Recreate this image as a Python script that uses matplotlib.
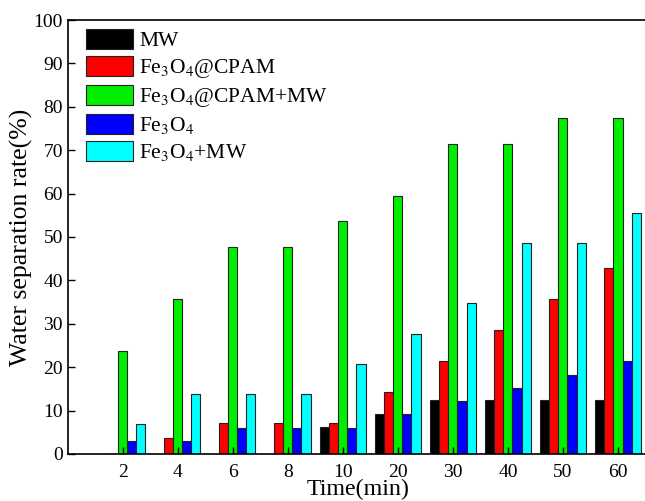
import numpy as np
import matplotlib.pyplot as plt

plt.rcParams['font.family'] = ['Liberation Serif', 'DejaVu Serif']
plt.rcParams['mathtext.fontset'] = 'stix'

# separation rate (%) over time for each treatment
times = ['2', '4', '6', '8', '10', '20', '30', '40', '50', '60']
mw = [0, 0, 0, 0, 6.2, 9.3, 12.4, 12.4, 12.4, 12.4]
fe_cpam = [0, 3.6, 7.1, 7.1, 7.1, 14.3, 21.4, 28.6, 35.7, 42.9]
fe_cpam_mw = [23.8, 35.7, 47.6, 47.6, 53.6, 59.5, 71.4, 71.4, 77.4, 77.4]
fe3o4 = [3.0, 3.0, 6.0, 6.0, 6.0, 9.1, 12.2, 15.1, 18.2, 21.3]
fe3o4_mw = [7.0, 13.9, 13.9, 13.9, 20.8, 27.7, 34.7, 48.6, 48.6, 55.6]

series = [mw, fe_cpam, fe_cpam_mw, fe3o4, fe3o4_mw]
labels = ['MW', r'Fe$_3$O$_4$@CPAM', r'Fe$_3$O$_4$@CPAM+MW',
          r'Fe$_3$O$_4$', r'Fe$_3$O$_4$+MW']
colors = ['#000000', '#ff0000', '#00ee00', '#0000ff', '#00ffff']

fig = plt.figure(figsize=(6.45, 5.01), dpi=100)
# right edge runs just past the canvas
ax = fig.add_axes([0.105, 0.094, 0.9, 0.866])

x = np.arange(len(times))
w = 0.165
for i, (vals, lab, col) in enumerate(zip(series, labels, colors)):
    ax.bar(x + (i - 2) * w, vals, w, color=col, edgecolor='#222222',
           linewidth=0.8, label=lab)

ax.set_xlim(-1, 9.55)
ax.set_ylim(0, 100)
ax.set_yticks(np.arange(0, 101, 10))
ax.set_xticks(x)
ax.set_xticklabels(times)
ax.tick_params(direction='in', labelsize=14, width=1, length=5)
ax.tick_params(axis='x', pad=7)
for s in ax.spines.values():
    s.set_linewidth(1.2)

ax.set_xlabel('Time(min)', fontsize=17.3, labelpad=-1)
ax.set_ylabel('Water separation rate(%)', fontsize=18.5, labelpad=0)

ax.legend(loc='upper left', frameon=False, fontsize=15.5,
          handlelength=2.2, handleheight=1.05, handletextpad=0.3,
          labelspacing=0.22, borderaxespad=0, borderpad=0.4,
          bbox_to_anchor=(0.016, 1.0))

fig.savefig('out.png', dpi=100)
